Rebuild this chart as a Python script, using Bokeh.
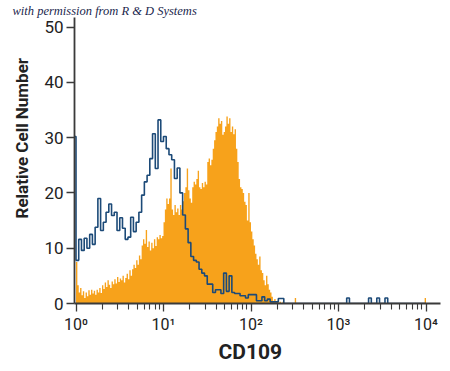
import numpy as np
from bokeh.plotting import figure
from bokeh.models import Range1d, FixedTicker, Title
from bokeh.embed import file_html
from bokeh.resources import INLINE

# ---------------- data ----------------
decades = 4
orange_bins_per_decade = 64
blue_bins_per_decade = 32

# stained sample (filled orange histogram), 256 channels over 10^0..10^4
orange_counts = [
    7.5, 3.3, 2.0, 2.8, 1.5, 2.2, 1.0, 2.0, 1.3, 2.4, 1.6, 2.5, 1.8, 2.3, 1.6, 2.5,
    2.0, 2.8, 1.9, 3.3, 2.6, 3.8, 3.0, 4.2, 3.4, 2.8, 4.0, 3.5, 4.4, 3.6, 4.8, 3.9,
    4.5, 4.2, 5.0, 3.8, 4.6, 5.4, 4.4, 6.0, 5.0, 6.2, 7.0, 6.4, 7.8, 7.0, 8.7, 8.0,
    10.5, 11.6, 10.8, 13.3, 10.2, 11.2, 9.6, 11.0, 10.0, 11.6, 10.4, 12.0, 11.6, 12.4, 11.8, 12.2,
    14.7, 17.0, 19.0, 18.0, 19.0, 24.4, 17.0, 16.0, 17.8, 16.5, 17.2, 16.0, 17.8, 17.0, 18.5, 20.0,
    21.0, 24.4, 20.5, 19.0, 18.2, 21.0, 22.0, 21.5, 22.5, 24.0, 21.0, 20.7, 21.8, 21.0, 22.0, 21.5,
    25.6, 26.2, 25.0, 26.0, 28.0, 29.5, 31.0, 32.0, 33.5, 32.5, 33.0, 30.5, 31.0, 32.0, 33.8, 32.5,
    33.5, 31.0, 32.0, 30.6, 31.5, 28.0, 25.6, 22.5, 21.0, 20.7, 20.0, 18.4, 17.8, 15.0, 20.0, 14.7,
    13.0, 11.6, 10.5, 9.0, 8.0, 7.0, 8.5, 6.0, 5.5, 4.2, 3.3, 5.0, 3.5, 2.5, 2.0, 1.2,
    0.5, 0.8, 0.3, 0.5, 0.2, 0.3, 0, 0.3, 0, 0, 0, 0, 0, 0, 0, 0,
    1.0, 0, 0, 0, 0, 0, 0, 0, 0, 0, 0, 0, 0, 0, 0, 0,
    0, 0, 0, 0, 0, 0, 0, 0, 0, 0, 0, 0, 0, 0, 0, 0,
    0, 0, 0, 0, 0, 0, 0, 0, 0, 0, 0, 0, 0, 0, 0, 0,
    0, 0, 0, 0, 0, 0, 0, 0, 0, 0, 0, 0, 0, 0, 0, 0,
    0, 0, 0, 0, 0, 0, 0, 0, 0, 0, 0, 0, 0, 0, 0, 0,
    0, 0, 0, 0, 0, 0, 0, 0, 0, 0, 0, 0, 0, 0, 0, 1.0,
]

# isotype control (blue outline histogram), 128 channels over 10^0..10^4
blue_underflow = 30.2
blue_counts = [
    7.8, 11.6, 9.6, 11.8, 10.0, 12.5, 10.7, 13.8, 19.0, 13.2, 14.7, 16.5, 18.0, 15.9, 16.5, 13.2,
    15.5, 13.6, 11.6, 12.0, 15.6, 13.0, 14.7, 16.5, 19.6, 22.0, 23.2, 26.2, 30.7, 24.4, 33.2, 29.3,
    30.2, 28.0, 26.9, 26.0, 22.6, 24.5, 20.0, 16.0, 13.5, 11.0, 8.5, 7.8, 7.5, 6.2, 5.5, 5.0,
    3.5, 3.5, 2.0, 2.5, 2.5, 1.8, 5.5, 2.2, 5.0, 2.0, 1.8, 1.8, 1.4, 1.4, 1.0, 1.6,
    1.6, 1.6, 0.5, 0.5, 1.2, 0.5, 0.8, 0.3, 0.3, 0.3, 0.9, 0.9, 0, 0, 0, 0,
    0, 0, 0, 0, 0, 0, 0, 0, 0, 0, 0, 0, 0, 0, 0, 0,
    0, 0, 0, 1.0, 0, 0, 0, 0, 0, 0, 0, 1.0, 0, 0, 1.0, 0,
    0, 1.0, 0, 0, 0, 0, 0, 0, 0, 0, 0, 0, 0, 0, 0, 0,
]

x_tick_values = [1, 10, 100, 1000, 10000]
x_tick_labels = ["10\u2070", "10\u00b9", "10\u00b2", "10\u00b3", "10\u2074"]
y_tick_values = [0, 10, 20, 30, 40, 50]
x_label = "CD109"
y_label = "Relative Cell Number"
credit = "with permission from R & D Systems"

# ---------------- styles ----------------
ORANGE = "#F7A21B"
BLUE = "#1C4A78"
AXIS = "#3a3a3a"
FONT = "Roboto"

orange_edges = 10.0 ** (np.arange(decades * orange_bins_per_decade + 1) / orange_bins_per_decade)
blue_edges = 10.0 ** (np.arange(-1, decades * blue_bins_per_decade + 1) / blue_bins_per_decade)

px_per_decade = 87.5
px_per_count = 5.53
lead_px = 1.5
frame_w = 366
frame_h = 286
x_start = 10 ** (-lead_px / px_per_decade)
x_end = 10 ** ((frame_w - lead_px) / px_per_decade)

p = figure(width=450, height=371, x_axis_type="log",
           x_range=Range1d(x_start, x_end), y_range=Range1d(0, frame_h / px_per_count),
           output_backend="svg", toolbar_location=None,
           min_border_left=74, min_border_right=10, min_border_top=17, min_border_bottom=68)
p.outline_line_color = None
p.grid.visible = False
p.background_fill_color = "white"
p.border_fill_color = "white"

p.varea_step(x=list(orange_edges), y1=[0] * len(orange_edges),
             y2=list(orange_counts) + [0], step_mode="after", fill_color=ORANGE)
p.step(x=list(blue_edges), y=[blue_underflow] + list(blue_counts) + [0],
       mode="after", line_color=BLUE, line_width=1.6)

minor = [m * 10 ** k for k in range(decades) for m in range(2, 10)]
p.xaxis.ticker = FixedTicker(ticks=x_tick_values, minor_ticks=minor)
p.xaxis.major_label_overrides = {v: s for v, s in zip(x_tick_values, x_tick_labels)}
p.yaxis.ticker = FixedTicker(ticks=y_tick_values, minor_ticks=[])

for ax in (p.xaxis[0], p.yaxis[0]):
    ax.axis_line_color = AXIS
    ax.axis_line_width = 1.8
    ax.major_tick_line_color = AXIS
    ax.major_tick_line_width = 1.3
    ax.minor_tick_line_color = AXIS
    ax.minor_tick_line_width = 1.1
    ax.major_tick_in = 0
    ax.major_tick_out = 8
    ax.minor_tick_in = 0
    ax.minor_tick_out = 6
    ax.major_label_text_font = FONT
    ax.major_label_text_color = "#222222"
    ax.major_label_standoff = 3
p.xaxis.major_label_text_font_size = "16px"
p.yaxis.major_label_text_font_size = "17px"

# credit line above the plot
p.add_layout(Title(text=credit, align="left", offset=-62, standoff=0,
                   vertical_align="bottom",
                   text_font="Liberation Serif", text_font_style="italic",
                   text_font_size="12.5px", text_color="#1a1f4d"), "above")
# y axis title
p.add_layout(Title(text=y_label, align="left", offset=85, standoff=18,
                   vertical_align="middle",
                   text_font=FONT, text_font_style="bold", text_font_size="17px",
                   text_color="#222222"), "left")
# x axis title
p.add_layout(Title(text=x_label, align="left", offset=144, standoff=6,
                   vertical_align="top",
                   text_font=FONT, text_font_style="bold", text_font_size="21px",
                   text_color="#222222"), "below")

open("out.html", "w").write(file_html(p, INLINE))
